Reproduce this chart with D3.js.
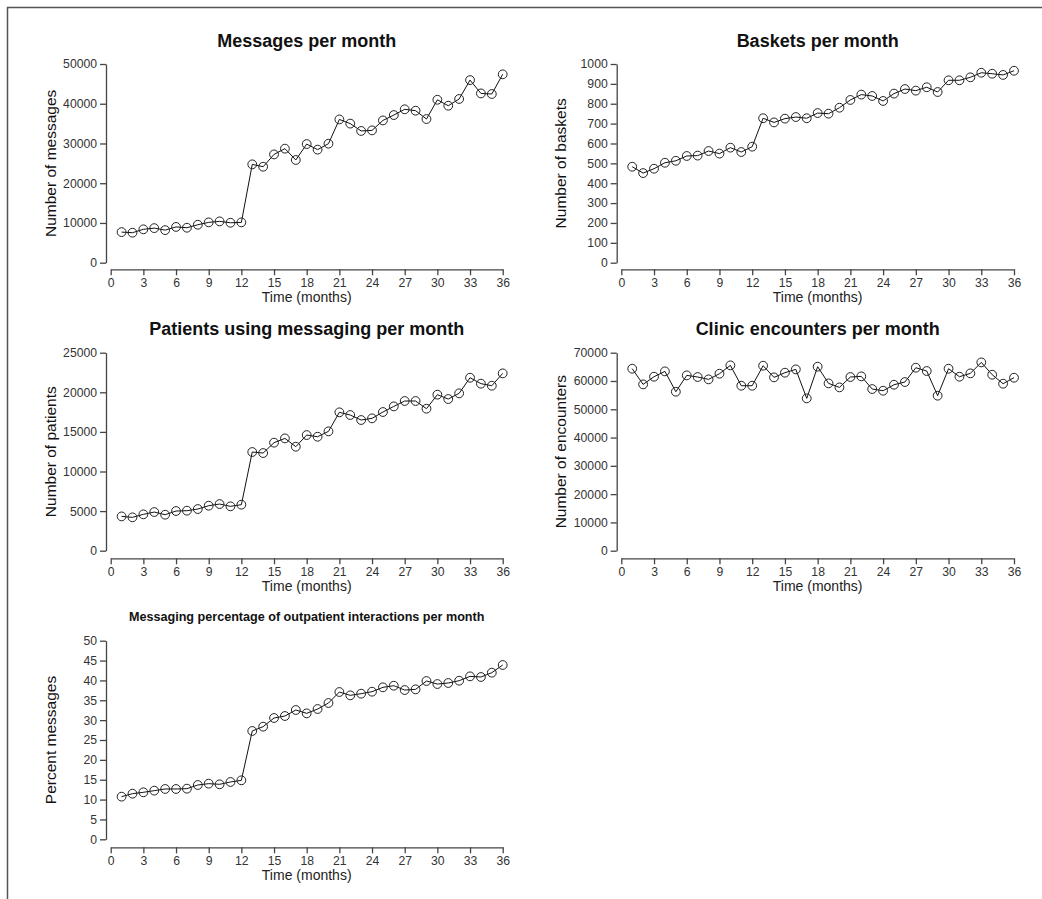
<!DOCTYPE html>
<html><head><meta charset="utf-8">
<script src="https://cdn.jsdelivr.net/npm/d3@7"></script>
<style>
html,body{margin:0;padding:0;background:#fff;}
svg{display:block;font-family:"Liberation Sans",Arial,sans-serif;}
</style></head>
<body>
<svg id="chart" width="1042" height="899"></svg>
<script>
const months = d3.range(1, 37);
const xTicks = [0,3,6,9,12,15,18,21,24,27,30,33,36];

const messages = [7700,7550,8400,8700,8200,9000,8800,9550,10150,10400,10050,10150,
  24750,24150,27250,28700,25850,29850,28450,29950,36050,35000,33150,33300,
  35800,37150,38600,38250,36150,41000,39500,41200,45950,42600,42450,47400];
const baskets = [483,451,473,503,513,537,539,562,549,579,557,584,
  727,706,725,733,727,753,750,780,819,846,839,814,
  851,874,866,883,859,918,918,933,956,951,945,966];
const patients = [4330,4210,4590,4880,4545,5010,5050,5260,5680,5890,5600,5810,
  12460,12330,13640,14180,13130,14600,14390,15070,17470,17130,16500,16710,
  17510,18220,18900,18900,17930,19700,19150,19870,21840,21090,20830,22390];
const encounters = [64340,58800,61510,63400,56210,61980,61400,60570,62570,65520,58330,58330,
  65400,61280,62930,64100,53850,65050,59160,57740,61400,61630,57150,56560,
  58680,59630,64690,63520,54800,64340,61510,62690,66580,62220,59040,61160];
const percent = [10.74,11.49,11.83,12.25,12.67,12.67,12.75,13.67,14.01,13.84,14.43,14.85,
  27.27,28.36,30.54,31.04,32.55,31.71,32.80,34.31,37.08,36.24,36.66,37.16,
  38.26,38.67,37.58,37.75,39.85,39.09,39.35,39.93,41.02,40.86,41.95,43.88];

const yTicksMessages = [0,10000,20000,30000,40000,50000];
const yTicksBaskets = [0,100,200,300,400,500,600,700,800,900,1000];
const yTicksPatients = [0,5000,10000,15000,20000,25000];
const yTicksEncounters = [0,10000,20000,30000,40000,50000,60000,70000];
const yTicksPercent = [0,5,10,15,20,25,30,35,40,45,50];

const svg = d3.select("#chart");

// outer frame
svg.append("path").attr("d","M7.5,899 L7.5,7.5 L1042,7.5")
  .attr("fill","none").attr("stroke","#555").attr("stroke-width",1.5);

const panels = [
  {title:"Messages per month", tsize:18, ty:46.7, ylab:"Number of messages", data:messages, ticks:yTicksMessages,
   ax:106, left:110.7, right:502.7, top:64, bottom:262.7, xaxisY:269.3, ylx:55.5},
  {title:"Baskets per month", tsize:18, ty:46.7, ylab:"Number of baskets", data:baskets, ticks:yTicksBaskets,
   ax:616.7, left:621.3, right:1014, top:64, bottom:262.7, xaxisY:269.3, ylx:566},
  {title:"Patients using messaging per month", tsize:18, ty:335, ylab:"Number of patients", data:patients, ticks:yTicksPatients,
   ax:106, left:110.7, right:502.7, top:352.7, bottom:550.7, xaxisY:558.3, ylx:55.5},
  {title:"Clinic encounters per month", tsize:18, ty:335, ylab:"Number of encounters", data:encounters, ticks:yTicksEncounters,
   ax:616.7, left:621.3, right:1014, top:352.7, bottom:550.7, xaxisY:558.3, ylx:566},
  {title:"Messaging percentage of outpatient interactions per month", tsize:12.6, ty:620.7, ylab:"Percent messages", data:percent, ticks:yTicksPercent,
   ax:106, left:110.7, right:502.7, top:640.7, bottom:839.3, xaxisY:847.3, ylx:55.5}
];

panels.forEach(p => {
  const g = svg.append("g");
  const x = d3.scaleLinear().domain([0,36]).range([p.left,p.right]);
  const yMax = p.ticks[p.ticks.length-1];
  const y = d3.scaleLinear().domain([0,yMax]).range([p.bottom,p.top]);

  // y axis
  const ya = g.append("g").attr("transform",`translate(${p.ax},0)`)
    .call(d3.axisLeft(y).tickValues(p.ticks).tickFormat(d3.format("d")).tickSize(6).tickPadding(3).tickSizeOuter(0));
  // x axis
  const xa = g.append("g").attr("transform",`translate(0,${p.xaxisY})`)
    .call(d3.axisBottom(x).tickValues(xTicks).tickFormat(d3.format("d")).tickSize(6).tickPadding(3).tickSizeOuter(0));
  [ya,xa].forEach(a => {
    a.select(".domain").attr("stroke","#444").attr("stroke-width",1.3);
    a.selectAll(".tick line").attr("stroke","#444").attr("stroke-width",1.3);
    a.selectAll(".tick text").attr("fill","#333").style("font-size","12.2px")
      .style("font-family",'"Liberation Sans",Arial,sans-serif');
  });

  // title
  g.append("text").attr("x",(p.left+p.right)/2).attr("y",p.ty).attr("text-anchor","middle")
    .style("font-weight","bold").style("font-size",p.tsize+"px").attr("fill","#111").text(p.title);
  // x label
  g.append("text").attr("x",(p.left+p.right)/2).attr("y",p.xaxisY+32.5).attr("text-anchor","middle")
    .style("font-size","14px").attr("fill","#222").text("Time (months)");
  // y label
  g.append("text").attr("transform",`translate(${p.ylx},${(p.top+p.bottom)/2}) rotate(-90)`)
    .attr("text-anchor","middle").style("font-size","15.5px").attr("fill","#111").text(p.ylab);

  // line
  const line = d3.line().x((d,i)=>x(months[i])).y(d=>y(d));
  g.append("path").datum(p.data).attr("d",line).attr("fill","none").attr("stroke","#111").attr("stroke-width",1);
  g.selectAll("circle.pt").data(p.data).enter().append("circle")
    .attr("cx",(d,i)=>x(months[i])).attr("cy",d=>y(d)).attr("r",4.4)
    .attr("fill","none").attr("stroke","#222").attr("stroke-width",1);
});
</script>
</body></html>
